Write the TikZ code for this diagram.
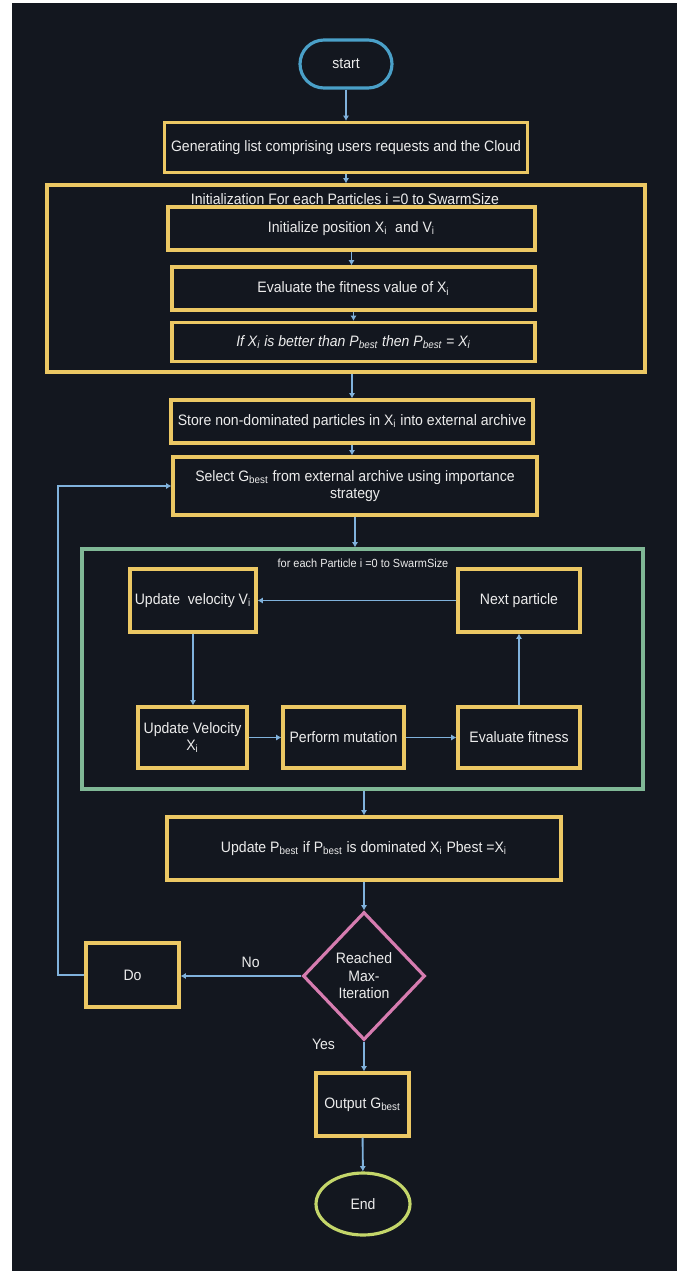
\documentclass[tikz,border=0pt]{standalone}
\usepackage{fontspec}
\setmainfont{Liberation Sans}[FakeStretch=0.93]
\usetikzlibrary{arrows.meta,shapes.geometric}

\definecolor{bgdark}{RGB}{19,23,31}
\definecolor{boxgold}{RGB}{236,200,100}
\definecolor{loopgreen}{RGB}{128,184,150}
\definecolor{startblue}{RGB}{74,160,200}
\definecolor{arrowblue}{RGB}{128,178,220}
\definecolor{diapink}{RGB}{214,124,176}
\definecolor{endlime}{RGB}{196,214,106}
\definecolor{txtgrey}{RGB}{236,236,236}

\begin{document}
\begin{tikzpicture}[x=0.02cm,y=-0.02cm,
    every node/.style={text=txtgrey,font=\fontsize{8.6}{10}\selectfont,align=center,inner sep=1pt},
    box/.style={draw=boxgold,line width=1.8pt,rectangle},
    flow/.style={draw=arrowblue,line width=1.1pt,-{Latex[length=3pt,width=3.5pt]}},
    >={Latex[length=3pt,width=3.5pt]}]
  \useasboundingbox (0,0) rectangle (685,1271);
  \fill[white] (0,0) rectangle (685,1271);
  \fill[bgdark] (12,3) rectangle (677,1271);

  \node[draw=startblue,line width=1.8pt,rounded corners=0.48cm,minimum width=1.84cm,minimum height=0.96cm] (start) at (346,64) {start};
  \node[box,minimum width=7.26cm,minimum height=1cm] (gen) at (346,147.5) {Generating list comprising users requests and the Cloud};

  % initialization loop
  \node[box,minimum width=11.96cm,minimum height=3.74cm] (initloop) at (346,278.5) {};
  \node (inittitle) at (345,199) {Initialization For each Particles i =0 to SwarmSize};
  \node[box,minimum width=7.34cm,minimum height=0.86cm] (initpos) at (351.5,228.5) {Initialize position X\textsubscript{i}\ \ and V\textsubscript{i}};
  \node[box,minimum width=7.26cm,minimum height=0.86cm] (evalfit) at (353.5,288.5) {Evaluate the fitness value of X\textsubscript{i}};
  \node[box,minimum width=7.26cm,minimum height=0.78cm] (ifbetter) at (353.5,342) {\itshape If X\textsubscript{i} is better than P\textsubscript{best} then P\textsubscript{best} = X\textsubscript{i}};

  \node[box,minimum width=7.24cm,minimum height=0.86cm] (store) at (352,421.5) {Store non-dominated particles in X\textsubscript{i} into external archive};
  \node[box,minimum width=7.28cm,minimum height=1.16cm] (select) at (355,486) {Select G\textsubscript{best} from external archive using importance\\strategy};

  % particle loop
  \node[draw=loopgreen,line width=1.8pt,minimum width=11.22cm,minimum height=4.8cm] (partloop) at (362.5,669) {};
  \node[font=\fontsize{6.7}{8}\selectfont] (parttitle) at (363,563) {for each Particle i =0 to SwarmSize};
  \node[box,minimum width=2.52cm,minimum height=1.26cm] (updv) at (193,600.5) {Update\ \ velocity V\textsubscript{i}};
  \node[box,minimum width=2.44cm,minimum height=1.26cm] (next) at (519,600.5) {Next particle};
  \node[box,minimum width=2.18cm,minimum height=1.22cm] (updx) at (192.5,737.5) {Update Velocity\\X\textsubscript{i}};
  \node[box,minimum width=2.42cm,minimum height=1.22cm] (mut) at (343.5,737.5) {Perform mutation};
  \node[box,minimum width=2.44cm,minimum height=1.22cm] (evalf) at (519,737.5) {Evaluate fitness};

  \node[box,minimum width=7.88cm,minimum height=1.26cm] (updp) at (364,848.5) {Update P\textsubscript{best} if P\textsubscript{best} is dominated X\textsubscript{i} Pbest =X\textsubscript{i}};
  \node[diamond,draw=diapink,line width=1.8pt,minimum width=2.44cm,minimum height=2.56cm,inner sep=0pt] (reached) at (364,976) {Reached\\Max-\\Iteration};
  \node[box,minimum width=1.86cm,minimum height=1.28cm] (do) at (132.5,975) {Do};
  \node[box,minimum width=1.86cm,minimum height=1.26cm] (out) at (362.5,1104.5) {Output G\textsubscript{best}};
  \node[ellipse,draw=endlime,line width=1.8pt,minimum width=1.88cm,minimum height=1.24cm] (end) at (363,1204) {End};
  \coordinate (loopx) at (58,0);

  \draw[flow] (start) -- (gen);
  \draw[flow] (gen.south) -- (gen.south |- initloop.north);
  \draw[flow] (initpos.south) -- (initpos.south |- evalfit.north);
  \draw[flow] (evalfit) -- (ifbetter);
  \draw[flow] (store.north |- initloop.south) -- (store.north);
  \draw[flow] (store.south) -- (store.south |- select.north);
  \draw[flow] (select.south) -- (select.south |- partloop.north);
  \draw[flow] (next) -- (updv);
  \draw[flow] (updv.south) -- (updv.south |- updx.north);
  \draw[flow] (updx) -- (mut);
  \draw[flow] (mut) -- (evalf);
  \draw[flow] (evalf) -- (next);
  \draw[flow] (updp.north |- partloop.south) -- (updp.north);
  \draw[flow] (updp.south) -- (updp.south |- reached.north);
  \draw[flow] (reached.west) -- (reached.west -| do.east) node[pos=0.42,above=3pt] {No};
  \draw[flow] (do.west) -- (do.west -| loopx) |- (select.west);
  \draw[flow] (reached.south) -- (reached.south |- out.north) node[pos=0.1,left=15pt] {Yes};
  \draw[flow] (out) -- (end);
\end{tikzpicture}
\end{document}
